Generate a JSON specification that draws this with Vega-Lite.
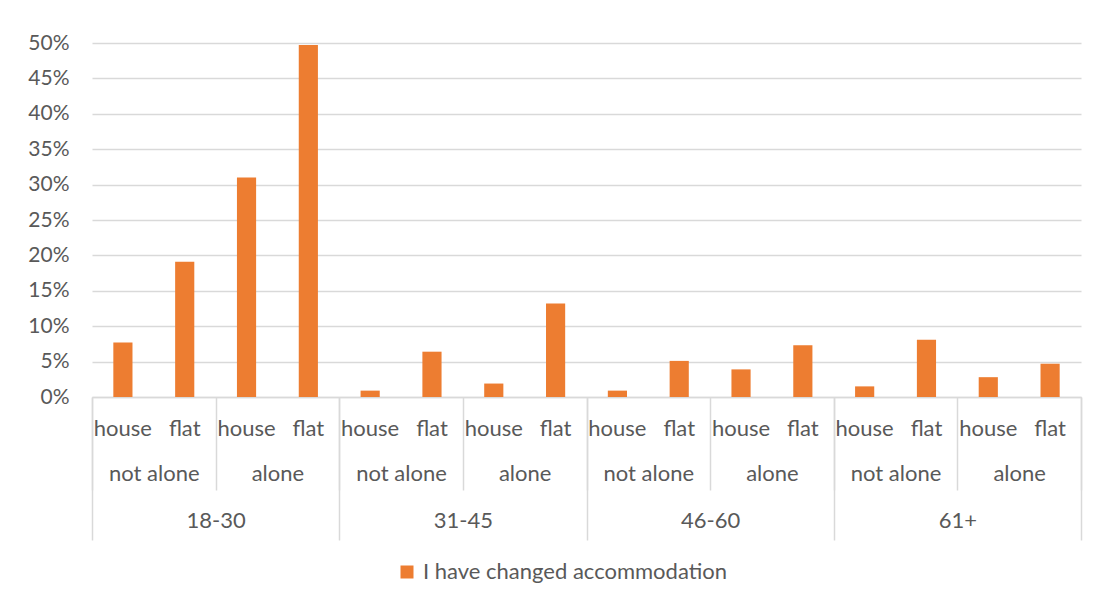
{
  "$schema": "https://vega.github.io/schema/vega-lite/v6.json",
  "width": 989,
  "height": 354,
  "autosize": {"type": "none"},
  "padding": {"left": 92, "top": 43, "right": 18, "bottom": 203},
  "config": {
    "font": "Lato",
    "view": {"stroke": null},
    "axis": {"labelFont": "Lato", "labelFontSize": 22, "labelColor": "#595959", "domainColor": "#d9d9d9", "tickColor": "#d9d9d9", "gridColor": "#d9d9d9"}
  },
  "data": {
    "values": [
      {"age": "18-30", "living": "not alone", "type": "house", "key": "18-30|not alone|house", "grp": "18-30|not alone", "value": 0.077},
      {"age": "18-30", "living": "not alone", "type": "flat", "key": "18-30|not alone|flat", "grp": "18-30|not alone", "value": 0.191},
      {"age": "18-30", "living": "alone", "type": "house", "key": "18-30|alone|house", "grp": "18-30|alone", "value": 0.310},
      {"age": "18-30", "living": "alone", "type": "flat", "key": "18-30|alone|flat", "grp": "18-30|alone", "value": 0.497},
      {"age": "31-45", "living": "not alone", "type": "house", "key": "31-45|not alone|house", "grp": "31-45|not alone", "value": 0.009},
      {"age": "31-45", "living": "not alone", "type": "flat", "key": "31-45|not alone|flat", "grp": "31-45|not alone", "value": 0.064},
      {"age": "31-45", "living": "alone", "type": "house", "key": "31-45|alone|house", "grp": "31-45|alone", "value": 0.019},
      {"age": "31-45", "living": "alone", "type": "flat", "key": "31-45|alone|flat", "grp": "31-45|alone", "value": 0.132},
      {"age": "46-60", "living": "not alone", "type": "house", "key": "46-60|not alone|house", "grp": "46-60|not alone", "value": 0.009},
      {"age": "46-60", "living": "not alone", "type": "flat", "key": "46-60|not alone|flat", "grp": "46-60|not alone", "value": 0.051},
      {"age": "46-60", "living": "alone", "type": "house", "key": "46-60|alone|house", "grp": "46-60|alone", "value": 0.039},
      {"age": "46-60", "living": "alone", "type": "flat", "key": "46-60|alone|flat", "grp": "46-60|alone", "value": 0.073},
      {"age": "61+", "living": "not alone", "type": "house", "key": "61+|not alone|house", "grp": "61+|not alone", "value": 0.015},
      {"age": "61+", "living": "not alone", "type": "flat", "key": "61+|not alone|flat", "grp": "61+|not alone", "value": 0.081},
      {"age": "61+", "living": "alone", "type": "house", "key": "61+|alone|house", "grp": "61+|alone", "value": 0.028},
      {"age": "61+", "living": "alone", "type": "flat", "key": "61+|alone|flat", "grp": "61+|alone", "value": 0.047}
    ]
  },
  "layer": [
    {
      "mark": {"type": "bar"},
      "encoding": {
        "x": {
          "field": "key", "type": "nominal", "sort": null,
          "scale": {"paddingInner": 0.69, "paddingOuter": 0.345},
          "axis": {"orient": "bottom", "title": null, "ticks": false, "labelAngle": 0, "labelPadding": 31, "labelBaseline": "middle", "labelExpr": "split(datum.value, '|')[2]", "domainWidth": 1.5}
        },
        "y": {
          "field": "value", "type": "quantitative",
          "scale": {"domain": [0, 0.5], "nice": false},
          "axis": {"title": null, "format": ".0%", "values": [0, 0.05, 0.1, 0.15, 0.2, 0.25, 0.3, 0.35, 0.4, 0.45, 0.5], "ticks": false, "domain": false, "labelPadding": 23, "labelFontSize": 21, "gridWidth": 1.5}
        },
        "color": {
          "datum": "I have changed accommodation",
          "type": "nominal",
          "scale": {"range": ["#ED7D31"]},
          "legend": {"orient": "none", "legendX": 304, "legendY": 518, "direction": "horizontal", "title": null, "symbolType": "square", "symbolSize": 169, "symbolOffset": 0, "labelOffset": 5, "labelLimit": 0, "labelFontSize": 22, "labelColor": "#595959", "labelFont": "Lato"}
        }
      }
    },
    {
      "mark": {"type": "text", "text": ""},
      "encoding": {
        "x": {
          "field": "grp", "type": "nominal", "sort": null,
          "scale": {"paddingInner": 0, "paddingOuter": 0},
          "axis": {"orient": "bottom", "title": null, "domain": false, "ticks": true, "tickBand": "extent", "tickSize": 93, "tickWidth": 1.5, "labelAngle": 0, "labelPadding": -17, "labelBaseline": "middle", "labelExpr": "split(datum.value, '|')[1]"}
        }
      }
    },
    {
      "mark": {"type": "text", "text": ""},
      "encoding": {
        "x": {
          "field": "age", "type": "nominal", "sort": null,
          "scale": {"paddingInner": 0, "paddingOuter": 0},
          "axis": {"orient": "bottom", "title": null, "domain": false, "ticks": true, "tickBand": "extent", "tickSize": 143, "tickWidth": 1.5, "labelAngle": 0, "labelPadding": -20, "labelBaseline": "middle"}
        }
      }
    }
  ],
  "resolve": {"scale": {"x": "independent"}, "axis": {"x": "independent"}}
}
